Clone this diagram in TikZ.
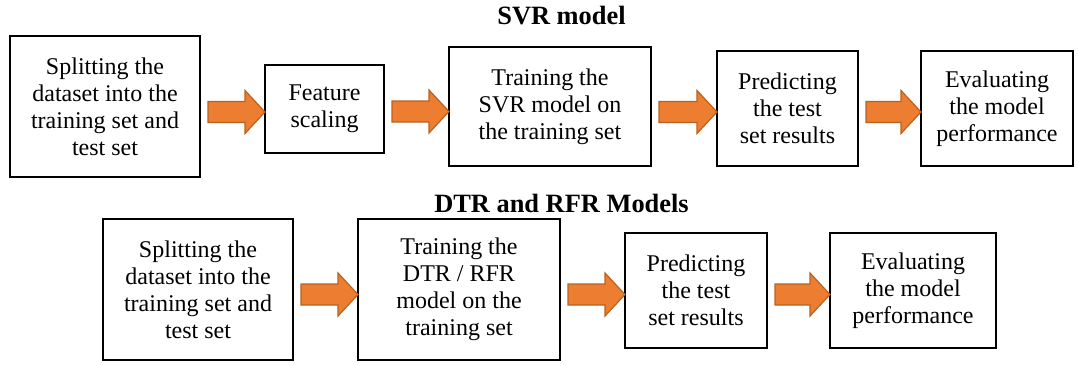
\documentclass[tikz,border=0pt]{standalone}
\usepackage{fontspec}
\setmainfont{Liberation Serif}
\usetikzlibrary{calc}
\definecolor{arrfill}{HTML}{ED7D31}
\definecolor{arrdraw}{HTML}{B8621F}
\begin{document}
\begin{tikzpicture}[x=0.5pt,y=-0.5pt,
  box/.style={draw, line width=0.9pt, align=center, inner sep=0pt, outer sep=0pt,
    font=\fontsize{12}{13.5}\selectfont},
  heading/.style={font=\fontsize{13.2}{15}\selectfont\bfseries, anchor=base, inner sep=0pt},
  blockarrow/.style={fill=arrfill, draw=arrdraw, line width=0.6pt, line join=miter,
    to path={let \p1=(\tikztostart), \p2=(\tikztotarget) in
      (\x1+4pt,#1+5.25pt) -- (\x2-10pt,#1+5.25pt) -- (\x2-10pt,#1+10.75pt) -- (\x2,#1)
      -- (\x2-10pt,#1-10.75pt) -- (\x2-10pt,#1-5.25pt) -- (\x1+4pt,#1-5.25pt) -- cycle}}
]
\useasboundingbox (0,0) rectangle (1078,365);

% titles
\node[heading] (t1) at (561.5,24) {SVR model};
\node[heading] (t2) at (561.5,212) {DTR and RFR Models};

% top row
\node[box, minimum width=95pt, minimum height=70.5pt] (a1) at (105,106.5)
  {Splitting the\\dataset into the\\training set and\\test set};
\node[box, minimum width=59.5pt, minimum height=44pt] (a2) at (324.5,109)
  {Feature\\scaling};
\node[box, minimum width=101pt, minimum height=59.5pt] (a3) at (550,106.5)
  {Training the\\SVR model on\\the training set};
\node[box, minimum width=70.5pt, minimum height=57.5pt] (a4) at (787.5,108.5)
  {Predicting\\the test\\set results};
\node[box, minimum width=76pt, minimum height=57.5pt] (a5) at (997,108.5)
  {Evaluating\\the model\\performance};

% bottom row
\node[box, minimum width=95pt, minimum height=70.5pt] (b1) at (198,289.5)
  {Splitting the\\dataset into the\\training set and\\test set};
\node[box, minimum width=101pt, minimum height=70.5pt] (b2) at (459,289.5)
  {Training the\\DTR / RFR\\model on the\\training set};
\node[box, minimum width=71pt, minimum height=57.5pt] (b3) at (696,290.5)
  {Predicting\\the test\\set results};
\node[box, minimum width=83pt, minimum height=57.5pt] (b4) at (913,290.5)
  {Evaluating\\the model\\performance};

% block arrows
\draw[blockarrow=-56pt] (a1.east) to (a2.west);
\draw[blockarrow=-55.75pt] (a2.east) to (a3.west);
\draw[blockarrow=-56pt] (a3.east) to (a4.west);
\draw[blockarrow=-56pt] (a4.east) to (a5.west);
\draw[blockarrow=-147.25pt] (b1.east) to (b2.west);
\draw[blockarrow=-147.25pt] (b2.east) to (b3.west);
\draw[blockarrow=-147.25pt] (b3.east) to (b4.west);
\end{tikzpicture}
\end{document}
